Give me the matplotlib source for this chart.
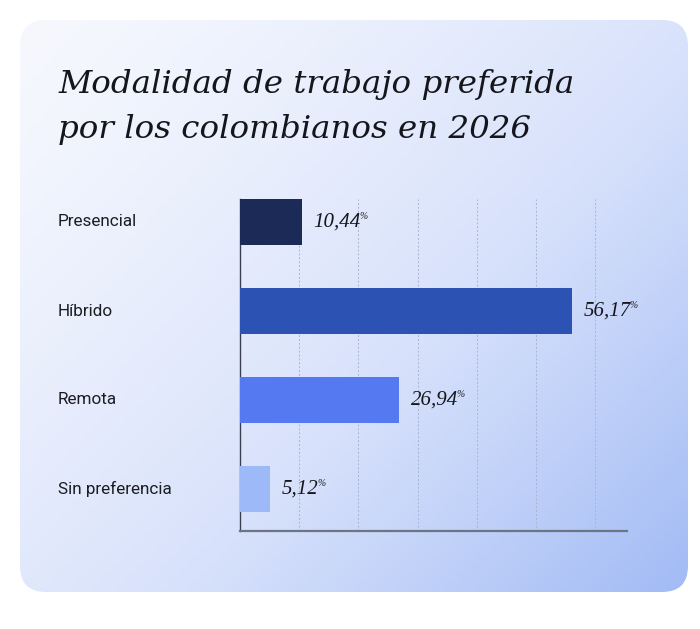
import numpy as np
import matplotlib
matplotlib.use("Agg")
import matplotlib.pyplot as plt
from matplotlib.patches import FancyBboxPatch
from matplotlib.colors import LinearSegmentedColormap

categorias = ['Presencial', 'Híbrido', 'Remota', 'Sin preferencia']
valores = [10.44, 56.17, 26.94, 5.12]
etiquetas = ['10,44', '56,17', '26,94', '5,12']
colores = ['#1b2a57', '#2c52b4', '#5479f1', '#9db9f7']

fig = plt.figure(figsize=(7, 6.29), dpi=100)
fig.patch.set_facecolor('white')

# tarjeta con degradado
bg = fig.add_axes([0, 0, 1, 1], zorder=0)
bg.set_xlim(0, 700)
bg.set_ylim(629, 0)
bg.axis('off')
card = FancyBboxPatch((20, 20), 668, 572, boxstyle='round,pad=0,rounding_size=26',
                      facecolor='none', edgecolor='none')
bg.add_patch(card)
gx, gy = np.meshgrid(np.linspace(0, 1, 300), np.linspace(0, 1, 300))
t = np.clip((0.55 * gx + 0.45 * gy), 0, 1) ** 1.3
cmap = LinearSegmentedColormap.from_list('card', ['#f6f8fe', '#d7e1fb', '#a2bbf5'])
img = bg.imshow(t, cmap=cmap, extent=(20, 688, 592, 20), aspect='auto', zorder=1)
img.set_clip_path(card)

# título
bg.text(58, 93, 'Modalidad de trabajo preferida', fontsize=23.4, style='italic',
        family='DejaVu Serif', color='#15161c', va='baseline', zorder=3)
bg.text(58, 138, 'por los colombianos en 2026', fontsize=23.4, style='italic',
        family='DejaVu Serif', color='#15161c', va='baseline', zorder=3)

ax = fig.add_axes([240 / 700, 1 - 531 / 629, 387 / 700, 332 / 629], zorder=2)
ax.patch.set_alpha(0)
y = np.arange(len(categorias))
ax.barh(y, valores, height=0.52, color=colores, zorder=3)
ax.set_xlim(0, 65.4)
ax.set_ylim(3.47, -0.26)
ax.set_xticks([10, 20, 30, 40, 50, 60])
ax.xaxis.grid(True, linestyle=(0, (2, 2)), color='#aab4d0', linewidth=0.7, zorder=1)
ax.tick_params(length=0, labelbottom=False, labelleft=False)
for s in ['top', 'right']:
    ax.spines[s].set_visible(False)
ax.spines['left'].set_color('#3a3f4f')
ax.spines['left'].set_linewidth(1)
ax.spines['bottom'].set_color('#6d7585')
ax.spines['bottom'].set_linewidth(1.6)

for i, cat in enumerate(categorias):
    bg.text(58, 222 + 89 * i, cat, fontsize=12.3, family='Roboto', color='#1c1d22',
            va='center', ha='left', zorder=3)

for i, (v, lab) in enumerate(zip(valores, etiquetas)):
    txt = ax.annotate(lab, xy=(v, i), xytext=(8, 0), textcoords='offset points',
                      fontsize=15, style='italic', family='Liberation Serif',
                      color='#15161c', va='center', ha='left')
    ax.annotate('%', xy=(0.98, 1.02), xycoords=txt, fontsize=7, style='italic',
                family='Liberation Serif', color='#15161c', va='top', ha='left')

fig.savefig('out.png', dpi=100)
